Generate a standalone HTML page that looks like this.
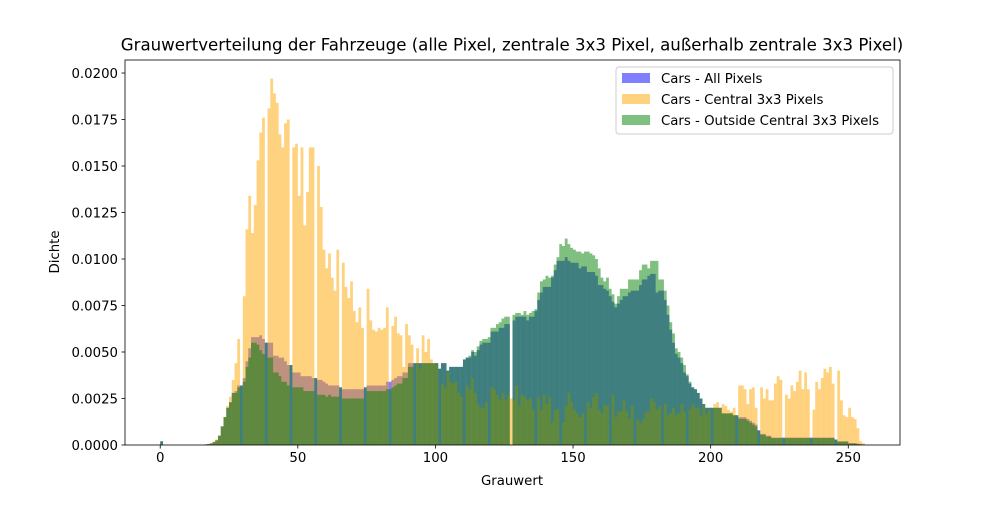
<!DOCTYPE html>
<html><head><meta charset="utf-8"><style>
body{margin:0;background:#fff;font-family:"Liberation Sans","DejaVu Sans",sans-serif;}
svg text{font-family:"DejaVu Sans","Liberation Sans",sans-serif;}
</style></head><body>
<svg id="chart" width="1000" height="500" viewBox="0 0 1000 500" xmlns="http://www.w3.org/2000/svg">
<rect x="0" y="0" width="1000" height="500" fill="#fff"/>
<g id="bars"></g>
<g id="axes"></g>
<text x="512" y="50.5" font-size="16.6" text-anchor="middle">Grauwertverteilung der Fahrzeuge (alle Pixel, zentrale 3x3 Pixel, außerhalb zentrale 3x3 Pixel)</text>
<text x="512" y="485" font-size="13.3" text-anchor="middle">Grauwert</text>
<text x="0" y="0" font-size="13.3" text-anchor="middle" transform="translate(59,252) rotate(-90)">Dichte</text>
<g>
<rect x="616" y="67" width="277" height="67" rx="3" fill="#fff" fill-opacity="0.8" stroke="#cccccc" stroke-width="1"/>
<rect x="622" y="73" width="28" height="10" fill="#0000ff" fill-opacity="0.5"/>
<text x="661" y="83" font-size="13.3">Cars - All Pixels</text>
<rect x="622" y="94" width="28" height="10" fill="#ffa500" fill-opacity="0.5"/>
<text x="661" y="104" font-size="13.3">Cars - Central 3x3 Pixels</text>
<rect x="622" y="115" width="28" height="10" fill="#008000" fill-opacity="0.5"/>
<text x="661" y="125" font-size="13.3">Cars - Outside Central 3x3 Pixels</text>
</g>
</svg>
<script>
// densities in units of 1e-4, bins 0..255
const allPixels = [
2,0,0,0,0,0,0,0,0,0,
0,0,0,0,0,0,0.3,0.5,0.8,1.5,
2.5,5,10,15,20,23,28,29,32,32,
36,45,52,58,58,58,59,57,55,55,
55,48,48,47,47,45,43,43,39,39,
39,37,37,37,37,36,36,35,35,34,
33,32,32,32,32,31,30,30,30,30,
30,30,30,30,31,32,32,32,32,32,
32,32,34,34,35,36,37,37,39,39,
44,44,44,44,44,44,44,44,44,44,
44,41,44,44,40,42,42,42,42,42,
46,47,47,50,48,51,54,55,55,55,
61,61,61,63,63,65,65,0,67,69,
69,69,69,67,69,69,72,78,82,85,
85,85,90,94,99,99,99,101,99,98,
98,98,95,96,96,93,93,93,91,86,
86,84,83,80,77,74,76,78,80,80,
82,83,83,83,86,89,89,91,92,92,
82,83,83,78,70,62,55,49,47,44,
39,37,33,31,30,28,25,22,20,20,
20,20,20,20,17,17,17,17,16,16,
15,15,15,14,13,12,11,8,6,6,
5,5,4,4,4,4,4,4,4,4,
4,4,4,4,4,4,4,4,4,4,
4,4,4,4,4,3,2,2,2,2,
1,1,1,0.7,0.5,0.3];
const centralPixels = [
0,0,0,0,0,0,0,0,0,0,
0,0,0,0,0,0,0,0.5,1,2,
3,5,10,15,21,26,35,44,57,0,
80,116,134,114,129,153,168,176,0,181,
197,189,184,167,160,173,175,0,160,162,
134,160,118,136,160,160,0,150,128,105,
95,103,90,83,105,0,98,85,79,88,
72,66,74,63,0,84,67,62,61,63,
62,63,74,0,64,69,60,59,42,65,
59,54,0,52,41,59,50,57,46,44,
43,0,33,31,39,34,33,34,28,26,
0,32,30,36,28,22,20,20,23,0,
31,30,27,24,28,24,27,25,24,32,
21,27,26,24,25,19,0,26,19,27,
22,26,12,19,19,0,12,21,28,23,
19,17,15,17,0,23,20,26,28,19,
17,22,21,0,27,15,18,18,24,18,
14,21,0,14,12,14,18,18,25,23,
19,21,0,22,16,17,20,16,17,22,
18,0,19,22,20,20,16,21,17,19,
0,22,23,20,22,21,19,18,20,0,
32,32,30,22,30,31,20,0,31,25,
30,24,24,33,37,35,0,27,25,32,
29,34,40,30,39,30,0,19,34,30,
36,41,39,42,33,0,40,24,16,15,
20,15,14,9,2,1];
const outsidePixels = [
2,0,0,0,0,0,0,0,0,0,
0,0,0,0,0,0,0.3,0.5,0.8,1.5,
2.5,5,10,15,20,23,28,28,31,32,
34,42,47,55,55,54,51,49,55,47,
47,39,39,37,34,34,32,43,31,31,
31,31,29,29,29,29,36,27,27,27,
26,27,26,26,26,31,25,25,25,25,
25,25,25,25,31,29,29,29,29,29,
29,29,30,30,31,32,33,33,36,36,
42,42,44,44,44,44,44,44,44,44,
44,41,44,44,40,42,42,42,42,42,
46,47,48,51,50,53,56,57,57,58,
63,63,65,66,68,69,69,0,70,71,
71,70,72,70,71,72,73,82,88,89,
91,90,91,97,101,108,107,111,108,106,
105,104,104,103,104,104,103,102,100,95,
90,88,90,84,81,76,80,84,84,84,
89,89,89,89,94,97,97,95,99,99,
99,89,89,83,75,66,60,52,50,47,
43,38,34,31,30,28,25,22,20,20,
20,20,20,20,17,17,17,17,16,16,
14,14,14,13,12,11,10,7.5,5.5,5.5,
4.5,4.5,3.7,3.7,3.7,3.7,3.7,3.7,3.7,3.7,
3.7,3.7,3.7,3.7,3.7,3.7,3.7,3.7,3.7,3.7,
3.7,3.7,3.7,3.7,3.7,2.7,1.8,1.8,1.8,1.8,
0.8,0.8,0.8,0.5,0.3,0.2];
const xTicks = [0,50,100,150,200,250];
const yTicks = [0,0.0025,0.005,0.0075,0.01,0.0125,0.015,0.0175,0.02];
const yTickLabels = ["0.0000","0.0025","0.0050","0.0075","0.0100","0.0125","0.0150","0.0175","0.0200"];

const NS="http://www.w3.org/2000/svg";
const L=125,R=900,T=60,B=445;
const xmin=-12.8,xmax=268.8,ymin=0,ymax=0.0207;
function xs(v){return L+(v-xmin)/(xmax-xmin)*(R-L);}
function ys(v){return B-(v-ymin)/(ymax-ymin)*(B-T);}
const bars=document.getElementById('bars');
function drawSeries(arr,color,name){
  const g=document.createElementNS(NS,'g');
  
  
  arr.forEach((v,i)=>{
    const d=v*1e-4;
    if(d<=0) return;
    const r=document.createElementNS(NS,'rect');
    
    
    const x0=xs(i),x1=xs(i+1),y0=ys(d);
    r.setAttribute('x',x0);r.setAttribute('width',x1-x0+0.05);
    r.setAttribute('y',y0);r.setAttribute('height',B-y0);
    r.setAttribute('fill',color);r.setAttribute('fill-opacity','0.5');
    g.appendChild(r);
  });
  bars.appendChild(g);
}
drawSeries(allPixels,'#0000ff','series-all');
drawSeries(centralPixels,'#ffa500','series-central');
drawSeries(outsidePixels,'#008000','series-outside');

const ax=document.getElementById('axes');
function el(tag,attrs,text){const e=document.createElementNS(NS,tag);for(const k in attrs)e.setAttribute(k,attrs[k]);if(text!==undefined)e.textContent=text;ax.appendChild(e);return e;}
const frame=el('rect',{x:L,y:T,width:R-L,height:B-T,fill:'none',stroke:'#000','stroke-width':0.8});


xTicks.forEach(t=>{
  const x=xs(t);
  const tk=el('line',{x1:x,x2:x,y1:B,y2:B+3.5,stroke:'#000','stroke-width':0.8});
  
  
  const lb=el('text',{x:x,y:B+17,'font-size':13.3,'text-anchor':'middle'},String(t));
  
  
});
yTicks.forEach((t,i)=>{
  const y=ys(t);
  const tk=el('line',{x1:L-3.5,x2:L,y1:y,y2:y,stroke:'#000','stroke-width':0.8});
  
  
  const lb=el('text',{x:L-7,y:y+4.8,'font-size':13.3,'text-anchor':'end'},yTickLabels[i]);
  
  
});
</script>
</body></html>
